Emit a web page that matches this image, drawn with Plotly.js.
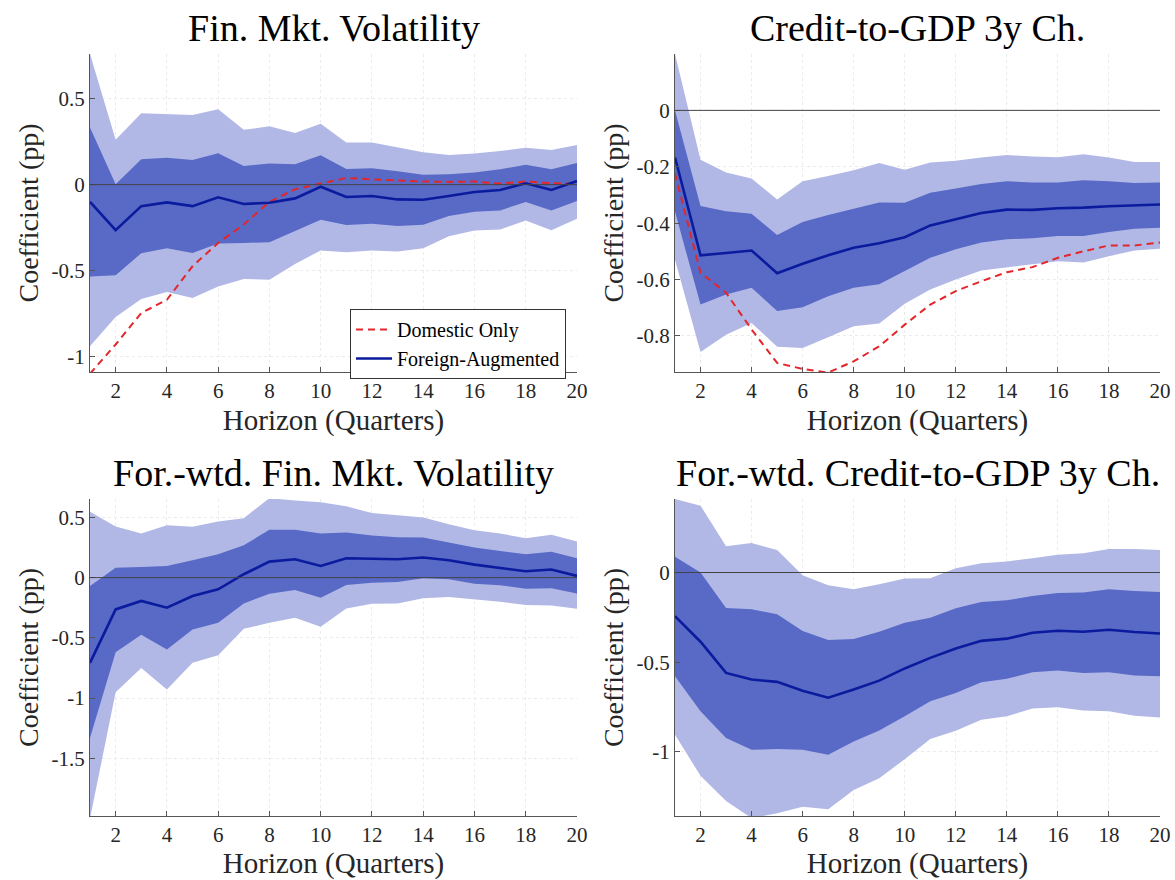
<!DOCTYPE html>
<html>
<head>
<meta charset="utf-8">
<script src="https://cdn.plot.ly/plotly-3.0.1.min.js"></script>
<style>
  html, body { margin: 0; padding: 0; background: #fff; }
  #chart { width: 1175px; height: 880px; }
</style>
</head>
<body>
<div id="chart"></div>
<script>
// horizon in quarters
const horizon = [1, 2, 3, 4, 5, 6, 7, 8, 9, 10, 11, 12, 13, 14, 15, 16, 17, 18, 19, 20];

// Fin. Mkt. Volatility
const fmvForeign = [-0.10, -0.265, -0.125, -0.103, -0.125, -0.074, -0.113, -0.105, -0.08, -0.012, -0.072, -0.066, -0.086, -0.088, -0.066, -0.043, -0.031, 0.008, -0.031, 0.021];
const fmvDomestic = [-1.10, -0.93, -0.747, -0.67, -0.475, -0.339, -0.232, -0.10, -0.027, 0.008, 0.039, 0.031, 0.023, 0.018, 0.016, 0.018, 0.006, 0.018, 0.008, 0.006];
const fmvHi68 = [0.333, 0.002, 0.148, 0.156, 0.144, 0.183, 0.109, 0.123, 0.119, 0.171, 0.091, 0.095, 0.078, 0.058, 0.060, 0.070, 0.089, 0.115, 0.089, 0.126];
const fmvLo68 = [-0.535, -0.527, -0.399, -0.37, -0.397, -0.342, -0.339, -0.335, -0.27, -0.204, -0.235, -0.228, -0.241, -0.233, -0.183, -0.158, -0.15, -0.101, -0.15, -0.095];
const fmvHi90 = [0.76, 0.261, 0.416, 0.41, 0.405, 0.438, 0.319, 0.339, 0.30, 0.354, 0.245, 0.245, 0.216, 0.189, 0.173, 0.181, 0.196, 0.214, 0.202, 0.23];
const fmvLo90 = [-0.94, -0.77, -0.665, -0.625, -0.66, -0.593, -0.549, -0.553, -0.461, -0.383, -0.393, -0.383, -0.389, -0.37, -0.30, -0.267, -0.261, -0.208, -0.265, -0.198];

// Credit-to-GDP 3y Ch.
const cgForeign = [-0.167, -0.514, -0.506, -0.497, -0.578, -0.544, -0.514, -0.487, -0.471, -0.45, -0.408, -0.386, -0.364, -0.352, -0.353, -0.347, -0.345, -0.34, -0.338, -0.334];
const cgDomestic = [-0.224, -0.576, -0.647, -0.777, -0.896, -0.917, -0.93, -0.89, -0.837, -0.76, -0.689, -0.641, -0.606, -0.574, -0.556, -0.523, -0.50, -0.479, -0.479, -0.469];
const cgHi68 = [0.0, -0.339, -0.358, -0.367, -0.442, -0.396, -0.371, -0.348, -0.327, -0.328, -0.292, -0.277, -0.261, -0.251, -0.256, -0.256, -0.248, -0.251, -0.258, -0.256];
const cgLo68 = [-0.359, -0.689, -0.653, -0.629, -0.712, -0.698, -0.659, -0.629, -0.617, -0.57, -0.523, -0.493, -0.469, -0.457, -0.454, -0.446, -0.446, -0.431, -0.42, -0.416];
const cgHi90 = [0.20, -0.175, -0.22, -0.242, -0.316, -0.251, -0.233, -0.212, -0.187, -0.211, -0.185, -0.179, -0.167, -0.158, -0.164, -0.166, -0.156, -0.167, -0.183, -0.183];
const cgLo90 = [-0.53, -0.857, -0.796, -0.754, -0.838, -0.843, -0.805, -0.766, -0.756, -0.686, -0.635, -0.60, -0.568, -0.556, -0.546, -0.535, -0.54, -0.517, -0.497, -0.491];

// For.-wtd. Fin. Mkt. Volatility
const fwvForeign = [-0.708, -0.264, -0.194, -0.25, -0.153, -0.097, 0.028, 0.133, 0.153, 0.097, 0.161, 0.158, 0.153, 0.167, 0.144, 0.108, 0.081, 0.053, 0.067, 0.014];
const fwvHi68 = [-0.069, 0.081, 0.089, 0.097, 0.144, 0.194, 0.269, 0.397, 0.397, 0.367, 0.375, 0.35, 0.336, 0.333, 0.292, 0.25, 0.222, 0.194, 0.214, 0.161];
const fwvLo68 = [-1.333, -0.619, -0.475, -0.597, -0.431, -0.375, -0.214, -0.133, -0.103, -0.167, -0.061, -0.042, -0.036, -0.006, -0.014, -0.05, -0.064, -0.092, -0.089, -0.131];
const fwvHi90 = [0.547, 0.425, 0.367, 0.436, 0.422, 0.467, 0.494, 0.66, 0.64, 0.625, 0.592, 0.536, 0.519, 0.5, 0.444, 0.394, 0.367, 0.328, 0.356, 0.30];
const fwvLo90 = [-2.0, -0.953, -0.75, -0.93, -0.708, -0.644, -0.425, -0.375, -0.333, -0.408, -0.256, -0.217, -0.214, -0.172, -0.161, -0.181, -0.2, -0.228, -0.231, -0.258];

// For.-wtd. Credit-to-GDP 3y Ch.
const fwcForeign = [-0.243, -0.386, -0.56, -0.597, -0.61, -0.659, -0.698, -0.653, -0.603, -0.535, -0.476, -0.424, -0.381, -0.369, -0.336, -0.325, -0.33, -0.319, -0.332, -0.34];
const fwcHi68 = [0.088, 0.0, -0.198, -0.205, -0.233, -0.326, -0.377, -0.371, -0.33, -0.28, -0.252, -0.2, -0.164, -0.155, -0.131, -0.114, -0.112, -0.093, -0.103, -0.108];
const fwcLo68 = [-0.578, -0.774, -0.923, -0.989, -0.985, -0.989, -1.017, -0.942, -0.881, -0.802, -0.718, -0.672, -0.612, -0.593, -0.556, -0.547, -0.56, -0.556, -0.575, -0.578];
const fwcHi90 = [0.41, 0.373, 0.146, 0.164, 0.125, -0.015, -0.071, -0.093, -0.065, -0.034, -0.032, 0.024, 0.052, 0.062, 0.08, 0.099, 0.108, 0.131, 0.131, 0.125];
const fwcLo90 = [-0.905, -1.134, -1.274, -1.37, -1.343, -1.306, -1.321, -1.213, -1.147, -1.041, -0.929, -0.882, -0.821, -0.802, -0.759, -0.752, -0.769, -0.774, -0.799, -0.808];

// tick labels
const xTicks = [2, 4, 6, 8, 10, 12, 14, 16, 18, 20];
const fmvTicks = [-1, -0.5, 0, 0.5];
const fmvTickText = ["-1", "-0.5", "0", "0.5"];
const cgTicks = [-0.8, -0.6, -0.4, -0.2, 0];
const cgTickText = ["-0.8", "-0.6", "-0.4", "-0.2", "0"];
const fwvTicks = [-1.5, -1, -0.5, 0, 0.5];
const fwvTickText = ["-1.5", "-1", "-0.5", "0", "0.5"];
const fwcTicks = [-1, -0.5, 0];
const fwcTickText = ["-1", "-0.5", "0"];

const titles = ["Fin. Mkt. Volatility", "Credit-to-GDP 3y Ch.", "For.-wtd. Fin. Mkt. Volatility", "For.-wtd. Credit-to-GDP 3y Ch."];

const lightBand = "#b1b8e6";
const darkBand = "#5869c6";
const lineBlue = "#0a1b9e";
const lineRed = "#e3262a";
const font = "'Liberation Serif', 'Times New Roman', serif";

let traces = [];

function addPanel(n, lo90, hi90, lo68, hi68, foreign, domestic) {
    const xa = n === 1 ? "x" : "x" + n;
    const ya = n === 1 ? "y" : "y" + n;
    const base = {x: horizon, xaxis: xa, yaxis: ya, mode: "lines", hoverinfo: "skip", showlegend: false};

    traces.push({...base, y: lo90, line: {width: 0, color: lightBand}});
    traces.push({...base, y: hi90, line: {width: 0, color: lightBand}, fill: "tonexty", fillcolor: lightBand});
    traces.push({...base, y: lo68, line: {width: 0, color: darkBand}});
    traces.push({...base, y: hi68, line: {width: 0, color: darkBand}, fill: "tonexty", fillcolor: darkBand});

    if (domestic) {
        traces.push({...base, y: domestic, name: "Domestic Only", showlegend: n === 1,
            line: {color: lineRed, width: 2, dash: "7px,5px"}});
    }
    traces.push({...base, y: foreign, name: "Foreign-Augmented", showlegend: n === 1,
        line: {color: lineBlue, width: 2.6}});
}

addPanel(1, fmvLo90, fmvHi90, fmvLo68, fmvHi68, fmvForeign, fmvDomestic);
addPanel(2, cgLo90, cgHi90, cgLo68, cgHi68, cgForeign, cgDomestic);
addPanel(3, fwvLo90, fwvHi90, fwvLo68, fwvHi68, fwvForeign, null);
addPanel(4, fwcLo90, fwcHi90, fwcLo68, fwcHi68, fwcForeign, null);

// plot boxes in paper units
const leftDom = [90 / 1175, 577 / 1175];
const rightDom = [675 / 1175, 1160 / 1175];
const topDom = [1 - 372 / 880, 1 - 54 / 880];
const botDom = [1 - 816 / 880, 1 - 499 / 880];

function xAxis(domain, anchor) {
    return {
        domain: domain, anchor: anchor, range: [1, 20],
        tickvals: xTicks, ticks: "inside", ticklen: 5, tickcolor: "#555",
        showline: true, linecolor: "#555", linewidth: 1,
        showgrid: true, gridcolor: "#ebebeb", griddash: "dot",
        zeroline: false,
        tickfont: {family: font, size: 21, color: "#262626"},
        title: {text: "Horizon (Quarters)", font: {family: font, size: 29, color: "#262626"}, standoff: 7},
    };
}

function yAxis(domain, anchor, range, vals, text) {
    return {
        domain: domain, anchor: anchor, range: range,
        tickvals: vals, ticktext: text, ticks: "inside", ticklen: 5, tickcolor: "#555",
        showline: true, linecolor: "#555", linewidth: 1,
        showgrid: true, gridcolor: "#ebebeb", griddash: "dot",
        zeroline: false,
        tickfont: {family: font, size: 21, color: "#262626"},
        title: {text: "Coefficient (pp)", font: {family: font, size: 28, color: "#262626"}, standoff: 4},
    };
}

let zeroLines = [];
for (let i = 1; i <= 4; i++) {
    const xa = i === 1 ? "x" : "x" + i;
    const ya = i === 1 ? "y" : "y" + i;
    zeroLines.push({type: "line", xref: xa + " domain", x0: 0, x1: 1, yref: ya, y0: 0, y1: 0,
        line: {color: "#444", width: 1}, layer: "above"});
}

const titleX = [(90 + 577) / 2 / 1175, (675 + 1160) / 2 / 1175, (90 + 577) / 2 / 1175, (675 + 1160) / 2 / 1175];
const titleY = [1 - 28 / 880, 1 - 28 / 880, 1 - 473 / 880, 1 - 473 / 880];
let annotations = titles.map((t, i) => ({
    text: t, xref: "paper", yref: "paper", x: titleX[i], y: titleY[i],
    xanchor: "center", yanchor: "middle", showarrow: false,
    font: {family: font, size: 38, color: "#000"},
}));

let layout = {
    width: 1175,
    height: 880,
    margin: {l: 0, r: 0, t: 0, b: 0},
    paper_bgcolor: "#fff",
    plot_bgcolor: "#fff",
    xaxis: xAxis(leftDom, "y"),
    yaxis: yAxis(topDom, "x", [-1.09, 0.76], fmvTicks, fmvTickText),
    xaxis2: xAxis(rightDom, "y2"),
    yaxis2: yAxis(topDom, "x2", [-0.928, 0.20], cgTicks, cgTickText),
    xaxis3: xAxis(leftDom, "y3"),
    yaxis3: yAxis(botDom, "x3", [-1.98, 0.653], fwvTicks, fwvTickText),
    xaxis4: xAxis(rightDom, "y4"),
    yaxis4: yAxis(botDom, "x4", [-1.358, 0.41], fwcTicks, fwcTickText),
    shapes: zeroLines,
    annotations: annotations,
    showlegend: true,
    legend: {
        x: 566 / 1175, y: 1 - 309 / 880, xanchor: "right", yanchor: "top",
        traceorder: "normal",
        bgcolor: "#fff", bordercolor: "#333", borderwidth: 1,
        font: {family: font, size: 20, color: "#000"},
        tracegroupgap: 0, itemwidth: 36,
    },
};

Plotly.newPlot("chart", traces, layout, {staticPlot: true});
</script>
</body>
</html>
